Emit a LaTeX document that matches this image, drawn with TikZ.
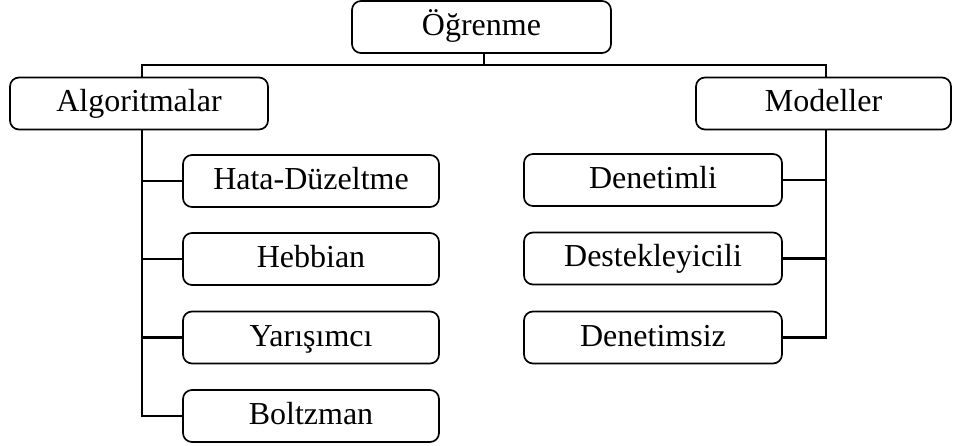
\documentclass[tikz,border=0pt]{standalone}
\usepackage{fontspec}
\setmainfont{Liberation Serif}
\tikzset{
  box/.style={draw=black, line width=1.7pt, rounded corners=9pt, fill=white,
    minimum height=52pt, inner sep=0pt, font=\fontsize{32}{38}\selectfont,
    text height=24pt, text depth=7pt},
  link/.style={draw=black, line width=2.7pt, line cap=rect}
}
\begin{document}
\begin{tikzpicture}[x=1pt,y=-1pt]
\useasboundingbox (0,0) rectangle (953,446);
% top level
\node[box, minimum width=259pt] (ogr) at (481.5,27) {Öğrenme};
\node[box, minimum width=258pt] (alg) at (139,103.5) {Algoritmalar};
\node[box, minimum width=255pt] (mod) at (823.5,103.5) {Modeller};
% algorithms
\node[box, minimum width=256pt] (hata) at (311,181) {Hata-Düzeltme};
\node[box, minimum width=256pt] (heb) at (311,259) {Hebbian};
\node[box, minimum width=256pt] (yar) at (311,337.5) {Yarışımcı};
\node[box, minimum width=256pt] (bol) at (311,416) {Boltzman};
% models
\node[box, minimum width=258pt] (den) at (653,180) {Denetimli};
\node[box, minimum width=258pt] (des) at (653,258.5) {Destekleyicili};
\node[box, minimum width=258pt] (dnz) at (653,337.5) {Denetimsiz};
% bus coordinates
\coordinate (busL) at (142,65);
\coordinate (busR) at (826,65);
% connectors
\draw[link] ([xshift=2.5pt]ogr.south) -- ([xshift=2.5pt]ogr.south |- busL);
\draw[link] (alg.north -| busL) -- (busL) -- (busR) -- (mod.north -| busR);
\draw[link] (alg.south -| busL) -- (busL |- bol.west) -- (bol.west);
\draw[link] (busL |- hata.west) -- (hata.west);
\draw[link] (busL |- heb.west) -- (heb.west);
\draw[link] (busL |- yar.west) -- (yar.west);
\draw[link] (mod.south -| busR) -- (busR |- dnz.east) -- (dnz.east);
\draw[link] (busR |- den.east) -- (den.east);
\draw[link] (busR |- des.east) -- (des.east);
\end{tikzpicture}
\end{document}
